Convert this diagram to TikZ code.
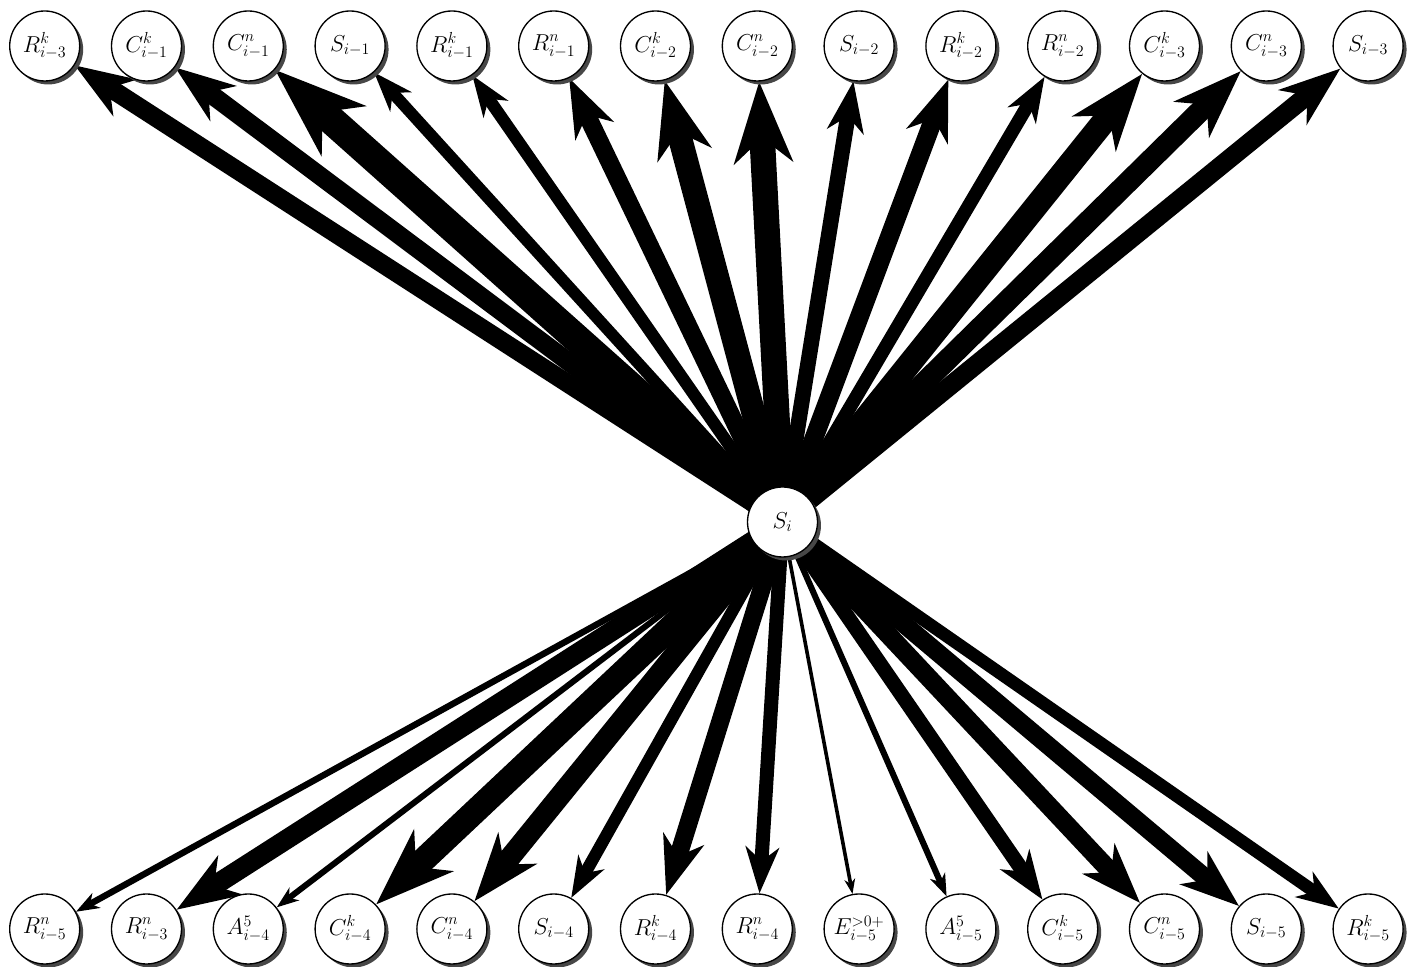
\documentclass[tikz,border=0pt]{standalone}
\usepackage{tikz}
\usetikzlibrary{positioning,arrows.meta,shadows,backgrounds}

\begin{document}
\begin{tikzpicture}[
    x=0.75pt, y=0.75pt,
    node distance=22.85pt,
    state/.style={circle, draw, line width=1pt, fill=white, minimum size=52.5pt, inner sep=1pt, font=\fontsize{16.5}{19}\selectfont,
        drop shadow={shadow xshift=2.6pt, shadow yshift=-2.6pt, fill=black!72, opacity=1}},
    wire/.style={-{Stealth[length=3pt 3, width'=0pt .72, inset'=0pt .3]}, line width=#1*0.75pt}
]
\useasboundingbox (0,0) rectangle (1407,967);

% ===== CENTRE =====
\node[state] (s_i) at (782.5,445) {$S_i$};

% ===== TOP ROW =====
\node[state] (rk_im3) at (44.7,921) {$R^k_{i-3}$};
\node[state, right=of rk_im3] (ck_im1) {$C^k_{i-1}$};
\node[state, right=of ck_im1] (cn_im1) {$C^n_{i-1}$};
\node[state, right=of cn_im1] (s_im1) {$S_{i-1}$};
\node[state, right=of s_im1] (rk_im1) {$R^k_{i-1}$};
\node[state, right=of rk_im1] (rn_im1) {$R^n_{i-1}$};
\node[state, right=of rn_im1] (ck_im2) {$C^k_{i-2}$};
\node[state, right=of ck_im2] (cn_im2) {$C^n_{i-2}$};
\node[state, right=of cn_im2] (s_im2) {$S_{i-2}$};
\node[state, right=of s_im2] (rk_im2) {$R^k_{i-2}$};
\node[state, right=of rk_im2] (rn_im2) {$R^n_{i-2}$};
\node[state, right=of rn_im2] (ck_im3) {$C^k_{i-3}$};
\node[state, right=of ck_im3] (cn_im3) {$C^n_{i-3}$};
\node[state, right=of cn_im3] (s_im3) {$S_{i-3}$};

% ===== BOTTOM ROW =====
\node[state] (rn_im5) at (44.7,38) {$R^n_{i-5}$};
\node[state, right=of rn_im5] (rn_im3) {$R^n_{i-3}$};
\node[state, right=of rn_im3] (a5_im4) {$A^5_{i-4}$};
\node[state, right=of a5_im4] (ck_im4) {$C^k_{i-4}$};
\node[state, right=of ck_im4] (cn_im4) {$C^n_{i-4}$};
\node[state, right=of cn_im4] (s_im4) {$S_{i-4}$};
\node[state, right=of s_im4] (rk_im4) {$R^k_{i-4}$};
\node[state, right=of rk_im4] (rn_im4) {$R^n_{i-4}$};
\node[state, right=of rn_im4] (e_im5) {$E^{>0+}_{i-5}$};
\node[state, right=of e_im5] (a5_im5) {$A^5_{i-5}$};
\node[state, right=of a5_im5] (ck_im5) {$C^k_{i-5}$};
\node[state, right=of ck_im5] (cn_im5) {$C^n_{i-5}$};
\node[state, right=of cn_im5] (s_im5) {$S_{i-5}$};
\node[state, right=of s_im5] (rk_im5) {$R^k_{i-5}$};

\begin{pgfonlayer}{background}
% ===== ARROWS - UP =====
\draw[wire=18.4] (s_i.center) -- (rk_im3);
\draw[wire=18.5] (s_i.center) -- (ck_im1);
\draw[wire=29] (s_i.center) -- (cn_im1);
\draw[wire=11.8] (s_i.center) -- (s_im1);
\draw[wire=12.3] (s_i.center) -- (rk_im1);
\draw[wire=18] (s_i.center) -- (rn_im1);
\draw[wire=24] (s_i.center) -- (ck_im2);
\draw[wire=25.5] (s_i.center) -- (cn_im2);
\draw[wire=15.5] (s_i.center) -- (s_im2);
\draw[wire=18.7] (s_i.center) -- (rk_im2);
\draw[wire=13.5] (s_i.center) -- (rn_im2);
\draw[wire=24] (s_i.center) -- (ck_im3);
\draw[wire=21.5] (s_i.center) -- (cn_im3);
\draw[wire=19] (s_i.center) -- (s_im3);

% ===== ARROWS - DOWN =====
\draw[wire=6.4] (s_i.center) -- (rn_im5);
\draw[wire=19.8] (s_i.center) -- (rn_im3);
\draw[wire=6] (s_i.center) -- (a5_im4);
\draw[wire=24.7] (s_i.center) -- (ck_im4);
\draw[wire=21.2] (s_i.center) -- (cn_im4);
\draw[wire=12.2] (s_i.center) -- (s_im4);
\draw[wire=18] (s_i.center) -- (rk_im4);
\draw[wire=14] (s_i.center) -- (rn_im4);
\draw[wire=3.6] (s_i.center) -- (e_im5);
\draw[wire=6.1] (s_i.center) -- (a5_im5);
\draw[wire=14.8] (s_i.center) -- (ck_im5);
\draw[wire=18.7] (s_i.center) -- (cn_im5);
\draw[wire=18.2] (s_i.center) -- (s_im5);
\draw[wire=12.7] (s_i.center) -- (rk_im5);
\end{pgfonlayer}

\end{tikzpicture}
\end{document}
